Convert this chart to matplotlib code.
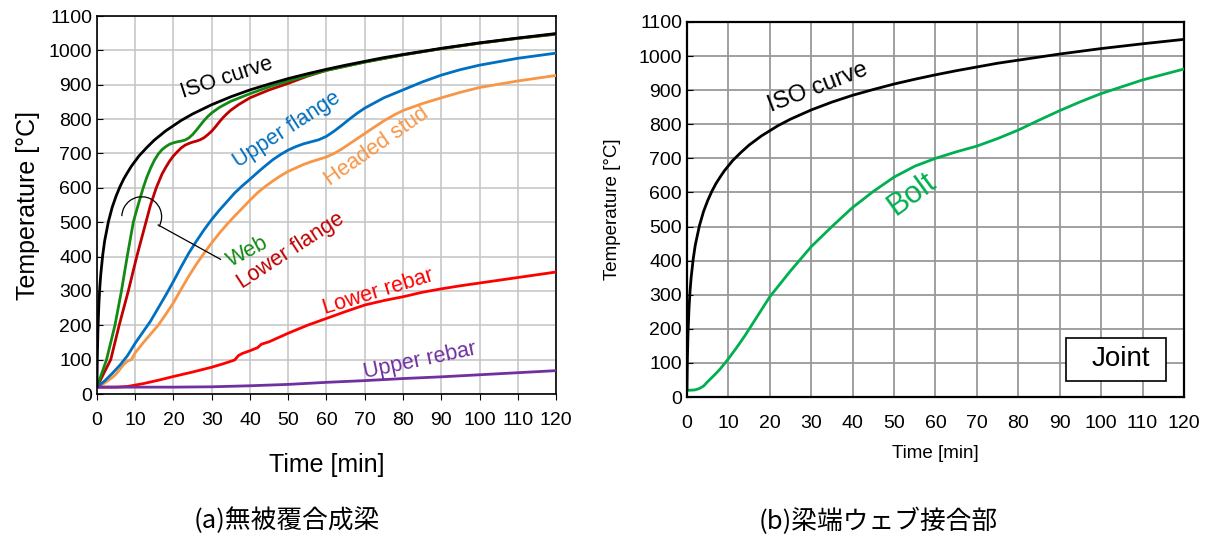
import matplotlib
matplotlib.use("Agg")
import matplotlib.pyplot as plt
from matplotlib.patches import Arc, Rectangle

plt.rcParams['font.family'] = ['Liberation Sans', 'DejaVu Sans']

# ---- ISO 834 standard fire curve ----
iso_t = [0, 0.1, 0.25, 0.5, 0.75, 1, 1.5, 2, 3, 4, 5, 6, 7, 8, 9, 10, 11, 12, 13,
         14, 15, 16, 18, 20, 22, 25, 30, 35, 40, 45, 50, 55, 60, 65, 70, 75, 80,
         85, 90, 95, 100, 110, 120]
iso_T = [20, 108, 185, 261, 312, 349, 404, 445, 502, 544, 576, 603, 626, 645,
         663, 678, 693, 705, 717, 728, 739, 748, 766, 781, 796, 815, 842, 865,
         885, 902, 918, 932, 945, 957, 968, 979, 988, 997, 1006, 1014, 1022,
         1036, 1049]

# ---- (a) unprotected composite beam ----
web_t = [0, 1, 2.5, 4.7, 6.4, 7.9, 9.5, 10.5, 11.5, 12, 13, 14, 15, 16, 17, 18,
         19, 20, 21, 22, 23, 24, 25, 26, 27, 28, 29, 30, 32, 35, 40, 45, 50, 60,
         70, 80, 90, 100, 110, 120]
web_T = [20, 52, 100, 200, 300, 400, 500, 540, 578, 597, 630, 657, 680, 698, 711,
         720, 727, 731, 734, 736, 739, 745, 755, 768, 782, 796, 808, 818, 834,
         852, 874, 894, 911, 942, 966, 987, 1005, 1021, 1035, 1048]

lfl_t = [0, 2, 3.6, 5.8, 8.2, 10.4, 12.8, 14, 15.5, 17, 18, 19, 20, 21, 22, 23,
         24, 25, 26, 27, 28, 29, 30, 31, 32, 33, 34, 35, 37, 40, 45, 50, 55, 60,
         70, 80, 90, 100, 110, 120]
lfl_T = [20, 65, 100, 200, 300, 400, 500, 550, 600, 640, 660, 678, 693, 705, 716,
         724, 729, 733, 736, 740, 746, 755, 765, 778, 792, 805, 816, 826, 842,
         862, 885, 904, 925, 942, 966, 987, 1005, 1021, 1035, 1047]

ufl_t = [0, 2, 4, 6, 8, 10, 12, 14, 16, 18, 20, 22, 24, 26, 28, 30, 32, 34, 36,
         38, 40, 42, 44, 46, 48, 50, 52, 54, 56, 58, 60, 62, 64, 66, 68, 70, 75,
         80, 85, 90, 95, 100, 110, 120]
ufl_T = [20, 38, 60, 84, 112, 148, 180, 212, 250, 288, 328, 370, 410, 445, 478,
         508, 535, 560, 585, 606, 625, 645, 664, 682, 697, 710, 720, 728, 734,
         740, 750, 765, 782, 800, 817, 832, 862, 885, 908, 928, 944, 957, 977, 992]

stud_t = [0, 2, 4, 5, 6, 7, 8, 9, 10, 11, 12, 14, 16, 18, 20, 22, 24, 26, 28, 30,
          32, 34, 36, 38, 40, 42, 44, 46, 48, 50, 52, 54, 56, 58, 60, 62, 64, 66,
          68, 70, 72, 75, 78, 80, 85, 90, 95, 100, 110, 120]
stud_T = [20, 32, 48, 58, 72, 86, 96, 100, 120, 134, 148, 174, 200, 232, 266, 305,
          343, 378, 410, 440, 468, 494, 518, 541, 564, 586, 604, 620, 635, 648,
          658, 668, 676, 683, 690, 700, 713, 728, 743, 758, 773, 795, 814, 825,
          845, 862, 878, 892, 911, 927]

lrb_t = [0, 5, 8, 12, 16, 20, 25, 30, 33, 36, 37, 38, 40, 42, 43, 45, 50, 55,
         60, 65, 70, 75, 80, 85, 90, 95, 100, 110, 120]
lrb_T = [20, 20, 22, 30, 40, 51, 64, 78, 88, 99, 112, 118, 126, 135, 145, 152,
         177, 200, 220, 240, 259, 272, 283, 296, 306, 315, 323, 339, 355]

urb_t = [0, 20, 30, 40, 50, 60, 70, 80, 90, 100, 110, 120]
urb_T = [20, 20, 21, 24, 28, 34, 39, 45, 50, 56, 62, 68]

# ---- (b) beam-end web joint ----
bolt_t = [0, 1, 2, 3, 4, 5, 6, 7, 8, 9, 10, 12, 14, 16, 18, 20, 25, 30, 35, 40,
          45, 50, 55, 60, 65, 70, 75, 80, 85, 90, 95, 100, 110, 120]
bolt_T = [20, 20, 21, 25, 32, 45, 57, 69, 82, 97, 112, 145, 180, 218, 256, 294,
          370, 441, 500, 556, 603, 645, 677, 700, 719, 736, 758, 783, 812, 840,
          866, 890, 930, 962]

x_ticks = list(range(0, 121, 10))
y_ticks = list(range(0, 1101, 100))

caption_a = "(a)無被覆合成梁"
caption_b = "(b)梁端ウェブ接合部"

fig = plt.figure(figsize=(12.09, 5.36), dpi=100)
ax1 = fig.add_axes([0.0802, 0.2649, 0.3797, 0.7052])
ax2 = fig.add_axes([0.5682, 0.2593, 0.4111, 0.6997])

lw = 2.0

# Left panel
ax1.plot(iso_t, iso_T, color='black', lw=lw, zorder=5)
ax1.plot(lfl_t, lfl_T, color='#c00000', lw=lw, zorder=4)
ax1.plot(web_t, web_T, color='#138a13', lw=lw, zorder=4)
ax1.plot(ufl_t, ufl_T, color='#0070c0', lw=lw, zorder=4)
ax1.plot(stud_t, stud_T, color='#f79646', lw=lw, zorder=3)
ax1.plot(lrb_t, lrb_T, color='#ff0000', lw=lw, zorder=4)
ax1.plot(urb_t, urb_T, color='#7030a0', lw=lw, zorder=4)

ax1.set_xlim(0, 120)
ax1.set_ylim(0, 1100)
ax1.set_xticks(x_ticks)
ax1.set_yticks(y_ticks)
ax1.grid(True, color='#c4c4c4', lw=1.1)
ax1.set_axisbelow(True)
ax1.tick_params(axis='both', labelsize=14, colors='black', length=4)
ax1.tick_params(axis='y', direction='in')
ax1.tick_params(axis='x', direction='out', pad=9)
for s in ax1.spines.values():
    s.set_color('black')
    s.set_linewidth(1.2)
ax1.set_xlabel('Time [min]', fontsize=18, labelpad=17)
ax1.set_ylabel('Temperature [°C]', fontsize=18, labelpad=6)

lbl = dict(ha='center', va='center', rotation_mode='anchor', fontsize=15.5)
ax1.text(34.0, 921, 'ISO curve', color='black', rotation=18, **lbl)
ax1.text(49.7, 768, 'Upper flange', color='#0070c0', rotation=33, **lbl)
ax1.text(73.2, 719, 'Headed stud', color='#f79646', rotation=35, **lbl)
ax1.text(39.5, 415, 'Web', color='#138a13', rotation=28, **lbl)
ax1.text(50.8, 416, 'Lower flange', color='#c00000', rotation=33, **lbl)
ax1.text(73.5, 298, 'Lower rebar', color='#ff0000', rotation=17, **lbl)
ax1.text(84.4, 96, 'Upper rebar', color='#7030a0', rotation=12, **lbl)

# bracket tying the Web / Lower flange labels to their curves
ax1.add_patch(Arc((11.7, 516), 10.4, 116, theta1=-81, theta2=163,
                  color='black', lw=0.9, zorder=6))
ax1.plot([16.0, 32.3], [492, 392], color='black', lw=0.9, zorder=6)

# Right panel
ax2.plot(iso_t, iso_T, color='black', lw=lw, zorder=5)
ax2.plot(bolt_t, bolt_T, color='#00b050', lw=lw, zorder=4)
ax2.set_xlim(0, 120)
ax2.set_ylim(0, 1100)
ax2.set_xticks(x_ticks)
ax2.set_yticks(y_ticks)
ax2.grid(True, color='#999999', lw=1.3)
ax2.set_axisbelow(True)
ax2.tick_params(axis='both', labelsize=14, colors='black', length=4)
ax2.tick_params(axis='y', direction='in')
ax2.tick_params(axis='x', length=0, pad=13)
for s in ax2.spines.values():
    s.set_color('black')
    s.set_linewidth(1.6)
ax2.set_xlabel('Time [min]', fontsize=13.5, labelpad=9)
ax2.set_ylabel('Temperature [°C]', fontsize=13.5, labelpad=13)

ax2.text(31.6, 909, 'ISO curve', color='black', rotation=21,
         ha='center', va='center', rotation_mode='anchor', fontsize=17)
ax2.text(54.2, 594, 'Bolt', color='#00b050', rotation=36,
         ha='center', va='center', rotation_mode='anchor', fontsize=22)

ax2.add_patch(Rectangle((0.762, 0.043), 0.201, 0.115, transform=ax2.transAxes,
                        facecolor='white', edgecolor='black', lw=1.2, zorder=7))
ax2.text(0.873, 0.101, 'Joint', transform=ax2.transAxes, ha='center',
         va='center', fontsize=20, zorder=8)

# Captions
cap = dict(ha='center', va='center', fontsize=18.5,
           family=['Noto Sans CJK JP', 'DejaVu Sans'])
fig.text(287 / 1209, 1 - 521 / 536, caption_a, **cap)
fig.text(878 / 1209, 1 - 521 / 536, caption_b, **cap)

fig.savefig('out.png', dpi=100, facecolor='white')
